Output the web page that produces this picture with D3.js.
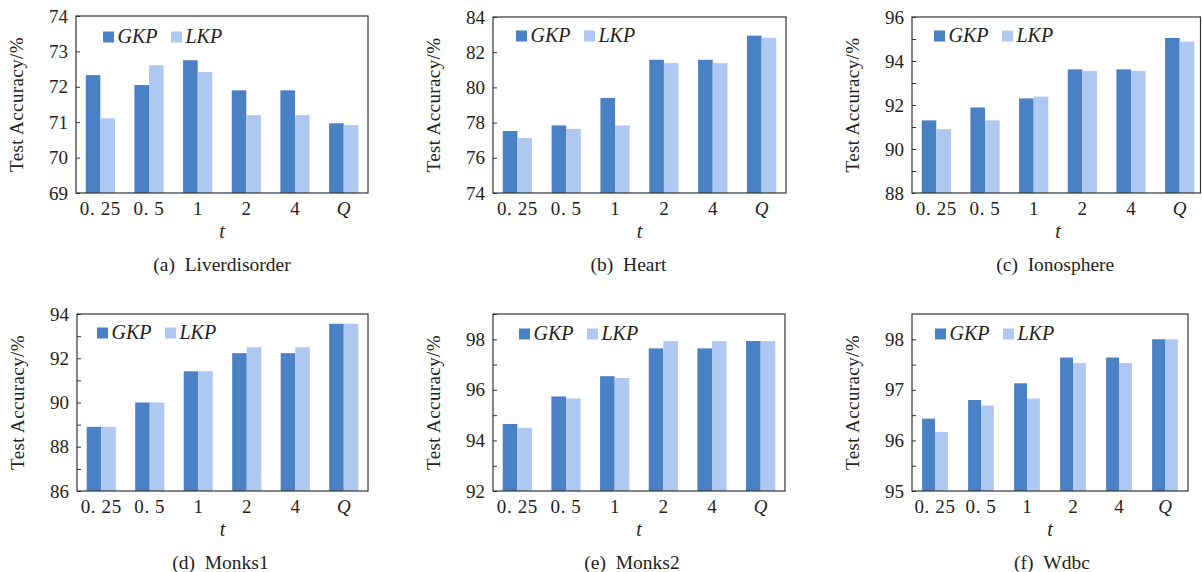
<!DOCTYPE html>
<html>
<head>
<meta charset="utf-8">
<script src="https://cdn.jsdelivr.net/npm/d3@7"></script>
<style>
  html, body { margin: 0; padding: 0; background: #fff; }
  svg { display: block; }
</style>
</head>
<body>
<svg id="chart" width="1202" height="572"></svg>
<script>
// ---- data ----
const categories = ["0. 25", "0. 5", "1", "2", "4", "Q"];
const seriesNames = ["GKP", "LKP"];

const liverGKP  = [72.33, 72.05, 72.75, 71.90, 71.90, 70.97];
const liverLKP  = [71.11, 72.61, 72.42, 71.20, 71.20, 70.92];
const heartGKP  = [77.52, 77.84, 79.40, 81.57, 81.57, 82.94];
const heartLKP  = [77.12, 77.64, 77.84, 81.38, 81.38, 82.82];
const ionoGKP   = [91.30, 91.89, 92.30, 93.62, 93.62, 95.05];
const ionoLKP   = [90.90, 91.30, 92.38, 93.55, 93.55, 94.88];
const monks1GKP = [88.90, 90.00, 91.41, 92.23, 92.23, 93.56];
const monks1LKP = [88.90, 90.00, 91.41, 92.50, 92.50, 93.56];
const monks2GKP = [94.65, 95.74, 96.54, 97.64, 97.64, 97.93];
const monks2LKP = [94.50, 95.66, 96.47, 97.93, 97.93, 97.93];
const wdbcGKP   = [96.43, 96.80, 97.13, 97.64, 97.64, 98.00];
const wdbcLKP   = [96.17, 96.69, 96.83, 97.53, 97.53, 98.00];

const captions = ["(a)\u00a0\u00a0Liverdisorder", "(b)\u00a0\u00a0Heart", "(c)\u00a0\u00a0Ionosphere",
                  "(d)\u00a0\u00a0Monks1", "(e)\u00a0\u00a0Monks2", "(f)\u00a0\u00a0Wdbc"];
const yDomains = [[69, 74], [74, 84], [88, 96], [86, 94], [92, 99], [95, 98.5]];
const yMajorTicks = [[69, 70, 71, 72, 73, 74], [74, 76, 78, 80, 82, 84], [88, 90, 92, 94, 96],
                     [86, 88, 90, 92, 94], [92, 94, 96, 98], [95, 96, 97, 98]];
const yMinorTicks = [[], [], [89, 91, 93, 95], [87, 89, 91, 93], [93, 95, 97, 99], [95.5, 96.5, 97.5]];
const yLabel = "Test Accuracy/%";
const xLabel = "t";

const panelData = [
  [liverGKP, liverLKP], [heartGKP, heartLKP], [ionoGKP, ionoLKP],
  [monks1GKP, monks1LKP], [monks2GKP, monks2LKP], [wdbcGKP, wdbcLKP]
];

// ---- layout (positions only) ----
const layout = [
  {left: 76,  top: 16,  right: 368,  frameRight: 368,  bottom: 193, pad: 0.40, legX: 27, legY: 21, capDx: 0},
  {left: 493, top: 17,  right: 786,  frameRight: 786,  bottom: 193, pad: 0.40, legX: 23, legY: 19, capDx: -11},
  {left: 912, top: 17,  right: 1204, frameRight: 1200.5, bottom: 193, pad: 0.40, legX: 22, legY: 19, capDx: -1},
  {left: 77,  top: 314, right: 368,  frameRight: 368,  bottom: 491, pad: 0.40, legX: 20, legY: 19, capDx: -2},
  {left: 493, top: 314, right: 785,  frameRight: 785,  bottom: 491, pad: 0.40, legX: 26, legY: 20, capDx: -7},
  {left: 912, top: 314, right: 1188, frameRight: 1188, bottom: 491, pad: 0.44, legX: 23, legY: 20, capDx: 2}
];
const colors = ["#4a80c4", "#aec8f2"];
const FONT = "'Liberation Serif', Tinos, 'Times New Roman', 'DejaVu Serif', serif";

const svg = d3.select("#chart");

layout.forEach((L, i) => {
  const g = svg.append("g").attr("font-family", FONT).attr("fill", "#222");
  const x0 = d3.scaleBand().domain(categories).range([L.left, L.right]).paddingInner(L.pad).paddingOuter(L.pad / 2);
  const x1 = d3.scaleBand().domain(seriesNames).range([0, x0.bandwidth()]);
  const y = d3.scaleLinear().domain(yDomains[i]).range([L.bottom, L.top]);

  // bars
  seriesNames.forEach((s, si) => {
    g.selectAll(null).data(panelData[i][si]).enter().append("rect")
      .attr("x", (d, k) => x0(categories[k]) + x1(s))
      .attr("y", d => y(d))
      .attr("width", x1.bandwidth())
      .attr("height", d => y(yDomains[i][0]) - y(d))
      .attr("fill", colors[si]);
  });

  // frame
  g.append("rect")
    .attr("x", L.left).attr("y", L.top)
    .attr("width", L.frameRight - L.left).attr("height", L.bottom - L.top)
    .attr("fill", "none").attr("stroke", "#333").attr("stroke-width", 1.2);

  // y axis major
  const ya = g.append("g").attr("transform", `translate(${L.left},0)`)
    .call(d3.axisLeft(y).tickValues(yMajorTicks[i]).tickSize(-4).tickPadding(8).tickFormat(d3.format("d")));
  ya.attr("font-family", FONT).attr("font-size", 19);
  ya.select(".domain").remove();
  ya.selectAll("line").attr("stroke", "#333");
  ya.selectAll("text").attr("fill", "#222");

  // y axis minor
  if (yMinorTicks[i].length) {
    const ym = g.append("g").attr("transform", `translate(${L.left},0)`)
      .call(d3.axisLeft(y).tickValues(yMinorTicks[i]).tickSize(-4).tickFormat(""));
    ym.select(".domain").remove();
    ym.selectAll("line").attr("stroke", "#333");
  }

  // x axis
  const xa = g.append("g").attr("transform", `translate(0,${L.bottom})`)
    .call(d3.axisBottom(x0).tickSize(0).tickPadding(9));
  xa.attr("font-family", FONT).attr("font-size", 19);
  xa.select(".domain").remove();
  xa.selectAll("text").attr("fill", "#222")
    .attr("letter-spacing", d => d.length > 1 ? 0.6 : 0)
    .attr("font-style", d => d === "Q" ? "italic" : "normal");

  // axis titles
  g.append("text")
    .attr("transform", `translate(${L.left - 53},${(L.top + L.bottom) / 2}) rotate(-90)`)
    .attr("text-anchor", "middle")
    .attr("font-size", 19).attr("letter-spacing", 0.4)
    .text(yLabel);
  g.append("text")
    .attr("x", (L.left + L.right) / 2).attr("y", L.bottom + 45)
    .attr("text-anchor", "middle")
    .attr("font-size", 20).attr("font-style", "italic")
    .text(xLabel);

  // caption
  g.append("text")
    .attr("x", (L.left + L.frameRight) / 2 + L.capDx).attr("y", L.bottom + 78)
    .attr("text-anchor", "middle")
    .attr("font-size", 19.5)
    .text(captions[i]);

  // legend
  seriesNames.forEach((s, si) => {
    const lx = L.left + L.legX + si * 68;
    const ly = L.top + L.legY;
    g.append("rect").attr("x", lx).attr("y", ly - 5.5).attr("width", 11).attr("height", 11).attr("fill", colors[si]);
    g.append("text").attr("x", lx + 14.5).attr("y", ly + 6)
      .attr("font-size", 20).attr("font-style", "italic")
      .text(s);
  });
});
</script>
</body>
</html>
